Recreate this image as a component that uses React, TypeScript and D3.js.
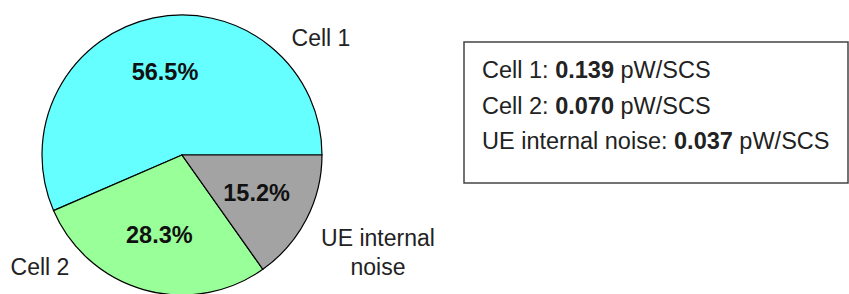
import * as d3 from "d3";
import { useEffect, useRef } from "react";

const categories = ["Cell 1", "Cell 2", "UE internal noise"];
const shares = [56.5, 28.3, 15.2];
const powers = ["0.139", "0.070", "0.037"];
const unit = "pW/SCS";
const outerLabels = [["Cell 1"], ["Cell 2"], ["UE internal", "noise"]];
const colors = ["#66ffff", "#99ff99", "#a3a3a3"];

// where the outside labels sit, relative to the pie centre
const labelSpots = [
  { dx: 139, dy: -109 },
  { dx: -142, dy: 120 },
  { dx: 196, dy: 91 },
];

const W = 849;
const H = 294;

const App = () => {
  const ref = useRef<SVGSVGElement>(null);

  useEffect(() => {
    const svg = d3.select(ref.current);
    svg.selectAll("*").remove();

    const cx = 182;
    const cy = 155;
    const r = 140;
    const font = "Arial, 'Liberation Sans', sans-serif";

    // counter-clockwise from 3 o'clock
    const pie = d3
      .pie<number>()
      .sort(null)
      .startAngle(Math.PI / 2)
      .endAngle(Math.PI / 2 - 2 * Math.PI);
    const arcs = pie(shares);

    const arc = d3.arc<d3.PieArcDatum<number>>().innerRadius(0).outerRadius(r);
    const labelArc = d3
      .arc<d3.PieArcDatum<number>>()
      .innerRadius(r * 0.6)
      .outerRadius(r * 0.6);

    const g = svg.append("g").attr("transform", `translate(${cx},${cy})`);

    g.selectAll("path")
      .data(arcs)
      .join("path")
      .attr("d", arc)
      .attr("fill", (_d, i) => colors[i])
      .attr("stroke", "#000")
      .attr("stroke-width", 1.2);

    g.selectAll("text.pct")
      .data(arcs)
      .join("text")
      .attr("class", "pct")
      .attr("transform", (d) => `translate(${labelArc.centroid(d)})`)
      .attr("text-anchor", "middle")
      .attr("dy", "0.3em")
      .attr("font-family", font)
      .attr("font-weight", "bold")
      .attr("font-size", 23.5)
      .attr("fill", "#111")
      .text((d) => `${d.data.toFixed(1)}%`);

    outerLabels.forEach((lines, i) => {
      const t = g
        .append("text")
        .attr("x", labelSpots[i].dx)
        .attr("y", labelSpots[i].dy)
        .attr("text-anchor", "middle")
        .attr("font-family", font)
        .attr("font-size", 23)
        .attr("fill", "#222");
      lines.forEach((line, j) => {
        t.append("tspan")
          .attr("x", labelSpots[i].dx)
          .attr("dy", j === 0 ? 0 : 29)
          .text(line);
      });
    });

    // legend box with values
    const legend = svg.append("g").attr("transform", "translate(464,42)");
    legend
      .append("rect")
      .attr("width", 384)
      .attr("height", 141)
      .attr("fill", "#fff")
      .attr("stroke", "#444")
      .attr("stroke-width", 1.5);

    categories.forEach((c, i) => {
      const t = legend
        .append("text")
        .attr("x", 18)
        .attr("y", 36 + i * 35.5)
        .attr("font-family", font)
        .attr("font-size", 23.5)
        .attr("fill", "#222");
      t.append("tspan").text(`${c}: `);
      t.append("tspan").attr("font-weight", "bold").text(powers[i]);
      t.append("tspan").text(` ${unit}`);
    });
  }, []);

  return (
    <svg
      ref={ref}
      width={W}
      height={H}
      style={{ position: "absolute", left: 0, top: 0, background: "#fff" }}
    />
  );
};

export default App;
